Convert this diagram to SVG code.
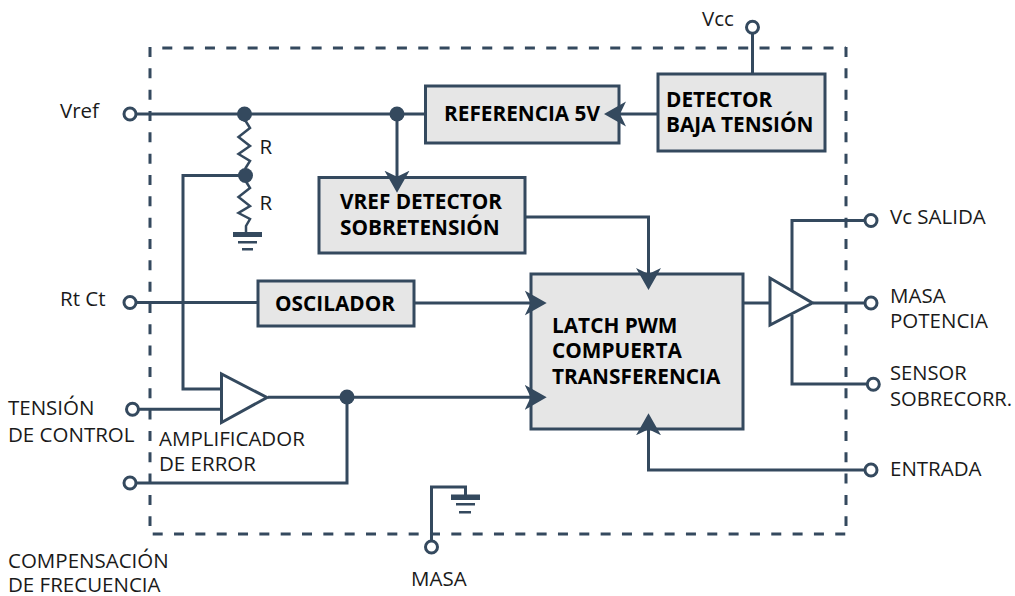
<svg xmlns="http://www.w3.org/2000/svg" width="1015" height="596" viewBox="0 0 1015 596">
<defs>
<marker id="arr" markerUnits="userSpaceOnUse" markerWidth="24" markerHeight="26" refX="16" refY="13" orient="auto"><path d="M0 0.500 L22 13 L0 25.500 L6 13 Z" fill="#34495e"/></marker>
</defs>
<style>
text{font-family:"Open Sans","Noto Sans","Liberation Sans",sans-serif;font-size:20.500px;fill:#1a1a1a}
text.b{font-weight:700;fill:#000;font-size:20.800px}
.box{fill:#e6e6e6;stroke:#34495e;stroke-width:3}
.w{fill:none;stroke:#34495e;stroke-width:3}
.th{fill:none;stroke:#34495e;stroke-width:2.500}
.dash{fill:none;stroke:#34495e;stroke-width:3;stroke-dasharray:10 11.330}
.t{fill:#fff;stroke:#34495e;stroke-width:3}
.d{fill:#34495e}
</style>
<g id="boundary">
<path class="dash" d="M162.300 48H846"/>
<path class="dash" d="M846 47V526"/>
<path class="dash" d="M152.700 534H846"/>
<path class="dash" d="M150 47V526"/>
</g>
<g id="referencia"><rect class="box" x="425.500" y="86" width="193.500" height="57"/><text class="b" x="444" y="120.500">REFERENCIA 5V</text></g>
<g id="detector-baja"><rect class="box" x="658" y="74" width="167" height="77"/><text class="b"><tspan x="666" y="106.500">DETECTOR</tspan><tspan x="666" y="131.500">BAJA TENSIÓN</tspan></text></g>
<g id="vref-detector"><rect class="box" x="319" y="177.500" width="206" height="75.500"/><text class="b"><tspan x="340" y="208.500">VREF DETECTOR</tspan><tspan x="340" y="234.500">SOBRETENSIÓN</tspan></text></g>
<g id="oscilador"><rect class="box" x="258" y="281" width="156" height="45"/><text class="b" x="275" y="311">OSCILADOR</text></g>
<g id="latch"><rect class="box" x="531" y="274" width="212" height="155"/><text class="b"><tspan x="552" y="332.500">LATCH PWM</tspan><tspan x="552" y="357.500">COMPUERTA</tspan><tspan x="552" y="383.500">TRANSFERENCIA</tspan></text></g>
<g id="amp-error"><path class="t" d="M221.500 374V422.500L267 397.500Z"/><text><tspan x="159" y="446">AMPLIFICADOR</tspan><tspan x="159" y="470.500">DE ERROR</tspan></text></g>
<g id="amp-out"><path class="t" d="M770 278V325L812.500 303Z"/></g>
<g id="connectors">
<path class="w" d="M136 114H425"/>
<path class="w" d="M397 114V186.700" marker-end="url(#arr)"/>
<path class="w" d="M245 114V122"/>
<path class="th" d="M245 120L250 128L238.500 137L250 146L238.500 154L250 161L245 169"/>
<path class="th" d="M245 180L250 188L238.500 197L250 206L238.500 213L250 219L246 226V233"/>
<path class="w" d="M245 175.500H183V389H221"/>
<path class="w" d="M136 302.500H258"/>
<path class="w" d="M414 303H540.700" marker-end="url(#arr)"/>
<path class="w" d="M136 409.300H221"/>
<path class="w" d="M268 397.300H540.700" marker-end="url(#arr)"/>
<path class="w" d="M347 397V483H136"/>
<path class="w" d="M658 114H610" marker-end="url(#arr)"/>
<path class="w" d="M752.500 33V74"/>
<path class="w" d="M526 217H648.500V284" marker-end="url(#arr)"/>
<path class="w" d="M743 303H770"/>
<path class="w" d="M813 303H865"/>
<path class="w" d="M792 291V220.500H865"/>
<path class="w" d="M792 315V384H867"/>
<path class="w" d="M865 470H648.500V419.300" marker-end="url(#arr)"/>
<path class="w" d="M431.500 541V487H465.500V495"/>
</g>
<g id="ground-r"><rect class="d" x="233" y="232" width="29" height="5"/><rect class="d" x="238" y="241" width="19" height="2.500"/><rect class="d" x="242" y="248" width="11" height="2.500"/></g>
<g id="ground-masa"><rect class="d" x="451" y="494.500" width="29" height="5.500"/><rect class="d" x="456" y="503" width="19" height="2.500"/><rect class="d" x="459" y="511" width="12" height="2.500"/></g>
<g id="junctions"><circle class="d" cx="244.500" cy="114" r="7.500"/><circle class="d" cx="397" cy="114" r="7.500"/><circle class="d" cx="245.500" cy="175.500" r="7.500"/><circle class="d" cx="347" cy="397" r="7.500"/></g>
<g id="ports">
<circle class="t" cx="130" cy="114" r="6"/><circle class="t" cx="752.500" cy="27.300" r="6"/><circle class="t" cx="130" cy="302.500" r="6"/><circle class="t" cx="132.500" cy="409.300" r="6"/><circle class="t" cx="130" cy="483" r="6"/><circle class="t" cx="871" cy="220.500" r="6"/><circle class="t" cx="871" cy="303" r="6"/><circle class="t" cx="873.300" cy="384.300" r="6"/><circle class="t" cx="871" cy="470" r="6"/><circle class="t" cx="431.500" cy="547" r="6"/>
</g>
<g id="labels">
<text x="60" y="118">Vref</text><text x="702" y="26">Vcc</text><text x="259.500" y="154">R</text><text x="259.500" y="210">R</text><text x="60" y="306">Rt Ct</text>
<text><tspan x="8" y="415">TENSIÓN</tspan><tspan x="8" y="441.500">DE CONTROL</tspan></text>
<text><tspan x="8" y="568">COMPENSACIÓN</tspan><tspan x="8" y="592">DE FRECUENCIA</tspan></text><text x="411" y="586">MASA</text>
<text x="890" y="224">Vc SALIDA</text><text><tspan x="890" y="302.500">MASA</tspan><tspan x="890" y="328">POTENCIA</tspan></text><text font-size="20" style="font-size:20.200px"><tspan x="890" y="380">SENSOR</tspan><tspan x="890" y="406">SOBRECORR.</tspan></text><text x="890" y="476">ENTRADA</text>
</g>
</svg>
